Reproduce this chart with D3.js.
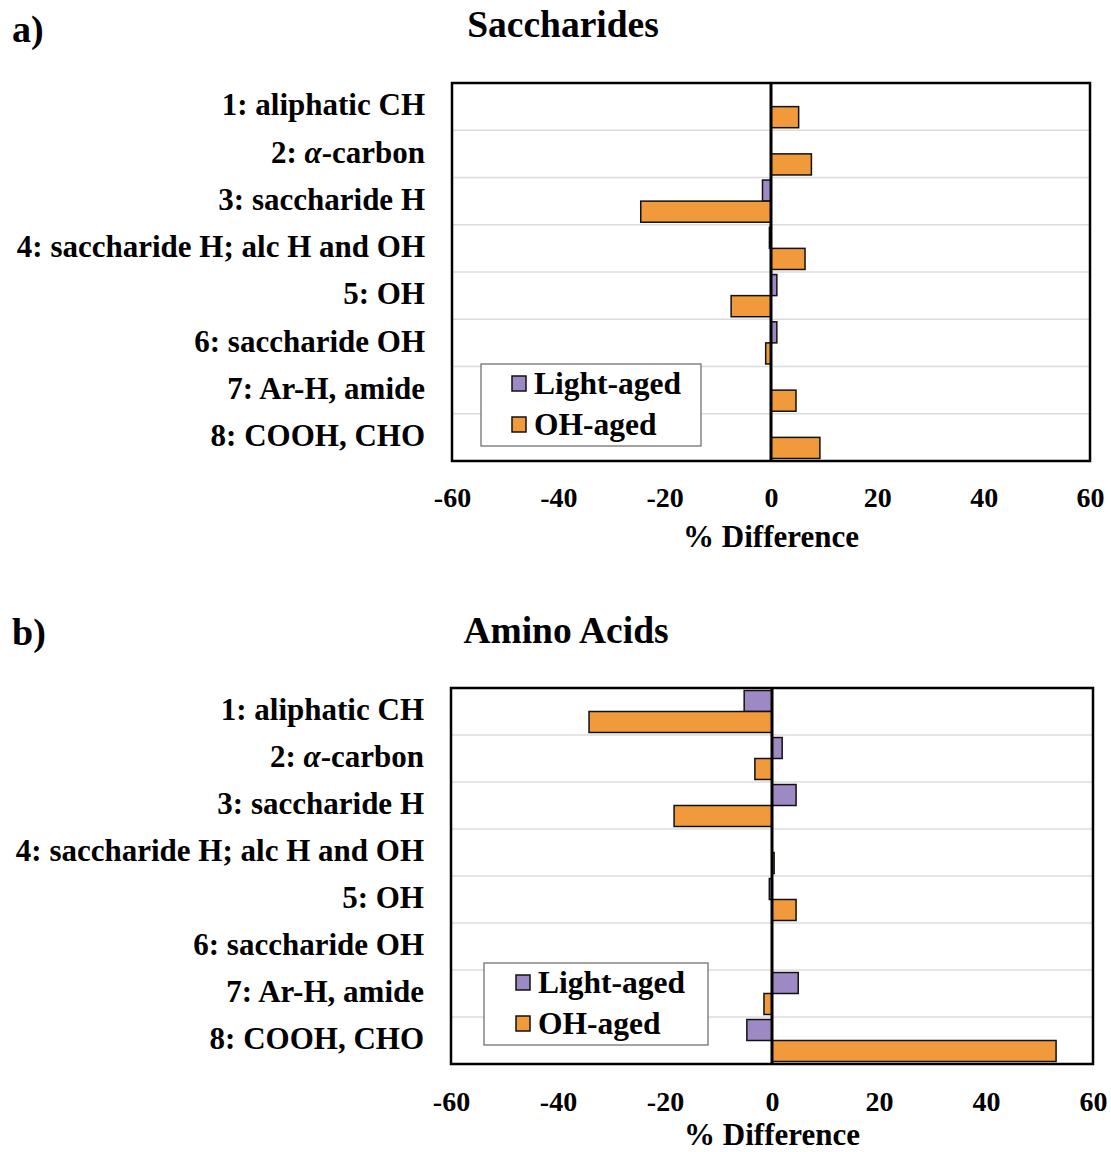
<!DOCTYPE html>
<html>
<head>
<meta charset="utf-8">
<script src="https://cdn.jsdelivr.net/npm/d3@7"></script>
<style>
  body { margin: 0; background: #fff; }
  svg { display: block; font-family: "Liberation Serif", "Times New Roman", serif; font-weight: bold; }
</style>
</head>
<body>
<div id="chart"></div>
<script>
// categories (top to bottom) and the two series
const categories = [
  "1: aliphatic CH",
  "2: α-carbon",
  "3: saccharide H",
  "4: saccharide H; alc H and OH",
  "5: OH",
  "6: saccharide OH",
  "7: Ar-H, amide",
  "8: COOH, CHO"
];
const seriesNames = ["Light-aged", "OH-aged"];
const xTicks = [-60, -40, -20, 0, 20, 40, 60];

// % difference
const saccharideLight = [0, 0, -1.6, -0.3, 1.1, 1.1, 0, 0];
const saccharideOH    = [5.2, 7.6, -24.5, 6.4, -7.5, -1.0, 4.7, 9.2];
const aminoLight      = [-5.2, 1.9, 4.5, 0, -0.5, 0, 4.9, -4.7];
const aminoOH         = [-34.2, -3.2, -18.3, 0.4, 4.5, 0, -1.5, 53.1];

const colors = ["#9d89c4", "#f09a3b"];

const width = 1111;
const height = 1152;

const svg = d3.select("#chart")
  .append("svg")
  .attr("width", width)
  .attr("height", height)
  .attr("viewBox", [0, 0, width, height]);

function drawPanel(p) {
  const g = svg.append("g");

  const x = d3.scaleLinear()
    .domain([-60, 60])
    .range([p.left, p.right]);

  const y = d3.scaleBand()
    .domain(categories)
    .range([p.top, p.bottom]);

  const ySub = d3.scaleBand()
    .domain(seriesNames)
    .range([0, y.bandwidth()])
    .paddingOuter(0.12);

  // panel letter and title
  g.append("text")
    .attr("x", 12)
    .attr("y", p.letterY)
    .attr("font-size", 38)
    .text(p.letter);

  g.append("text")
    .attr("x", p.titleX)
    .attr("y", p.titleY)
    .attr("text-anchor", "middle")
    .attr("font-size", 37.5)
    .text(p.title);

  // horizontal gridlines between categories
  g.append("g")
    .selectAll("line")
    .data(categories.slice(1))
    .join("line")
      .attr("x1", p.left)
      .attr("x2", p.right)
      .attr("y1", d => y(d))
      .attr("y2", d => y(d))
      .attr("stroke", "#dcdcdc")
      .attr("stroke-width", 1.5);

  // bars
  const rows = categories.map((c, i) => ({cat: c, values: [p.light[i], p.oh[i]]}));
  g.append("g")
    .selectAll("g")
    .data(rows)
    .join("g")
      .attr("transform", d => `translate(0,${y(d.cat)})`)
    .selectAll("rect")
    .data(d => d.values.map((v, j) => ({name: seriesNames[j], v})))
    .join("rect")
      .attr("x", d => x(Math.min(0, d.v)))
      .attr("y", d => ySub(d.name))
      .attr("width", d => Math.abs(x(d.v) - x(0)))
      .attr("height", ySub.bandwidth())
      .attr("fill", (d, j) => colors[j])
      .attr("stroke", "#111")
      .attr("stroke-width", 1.5);

  // zero line
  g.append("line")
    .attr("x1", x(0))
    .attr("x2", x(0))
    .attr("y1", p.top)
    .attr("y2", p.bottom)
    .attr("stroke", "#000")
    .attr("stroke-width", 3);

  // plot frame
  g.append("rect")
    .attr("x", p.left)
    .attr("y", p.top)
    .attr("width", p.right - p.left)
    .attr("height", p.bottom - p.top)
    .attr("fill", "none")
    .attr("stroke", "#000")
    .attr("stroke-width", 2.5);

  // category axis
  const gy = g.append("g")
    .attr("transform", `translate(${p.left},0)`)
    .call(d3.axisLeft(y).tickSize(0).tickPadding(27))
    .attr("font-family", null)
    .attr("font-size", 31);
  gy.select(".domain").remove();
  gy.selectAll(".tick text")
    .attr("fill", "#000")
    .attr("dy", "0.28em")
    .each(function(d) {
      if (d.includes("α")) {
        const t = d3.select(this).text("");
        const parts = d.split("α");
        t.append("tspan").text(parts[0]);
        t.append("tspan").attr("font-style", "italic").text("α");
        t.append("tspan").text(parts[1]);
      }
    });

  // value axis
  const gx = g.append("g")
    .attr("transform", `translate(0,${p.bottom})`)
    .call(d3.axisBottom(x).tickValues(xTicks).tickSize(0).tickPadding(p.tickPad).tickFormat(d => String(d)))
    .attr("font-family", null)
    .attr("font-size", 28);
  gx.select(".domain").remove();
  gx.selectAll(".tick text")
    .attr("fill", "#000");

  g.append("text")
    .attr("x", x(0))
    .attr("y", p.axisTitleY)
    .attr("text-anchor", "middle")
    .attr("font-size", 31)
    .text("% Difference");

  // legend
  const lg = g.append("g")
    .attr("transform", `translate(${p.legend.x},${p.legend.y})`);
  lg.append("rect")
    .attr("width", p.legend.w)
    .attr("height", p.legend.h)
    .attr("fill", "#fff")
    .attr("stroke", "#666")
    .attr("stroke-width", 1.2);
  const item = lg.selectAll("g.item")
    .data(seriesNames)
    .join("g")
      .attr("class", "item")
      .attr("transform", (d, i) => `translate(${p.legend.sx},${19 + i * 41})`);
  item.append("rect")
    .attr("x", 0)
    .attr("y", -7)
    .attr("width", 14)
    .attr("height", 15)
    .attr("fill", (d, i) => colors[i])
    .attr("stroke", "#111")
    .attr("stroke-width", 1.5);
  item.append("text")
    .attr("x", 22)
    .attr("y", 0)
    .attr("dy", "0.35em")
    .attr("font-size", 31.5)
    .text(d => d);
}

drawPanel({
  letter: "a)", letterY: 42,
  title: "Saccharides", titleX: 563, titleY: 37,
  left: 452, right: 1090, top: 83, bottom: 461,
  tickPad: 26, axisTitleY: 547,
  light: saccharideLight, oh: saccharideOH,
  legend: {x: 481, y: 364, w: 220, h: 82, sx: 31}
});

drawPanel({
  letter: "b)", letterY: 645,
  title: "Amino Acids", titleX: 566, titleY: 643,
  left: 451, right: 1093, top: 688, bottom: 1064,
  tickPad: 27, axisTitleY: 1145,
  light: aminoLight, oh: aminoOH,
  legend: {x: 484, y: 963, w: 224, h: 82, sx: 32}
});
</script>
</body>
</html>
